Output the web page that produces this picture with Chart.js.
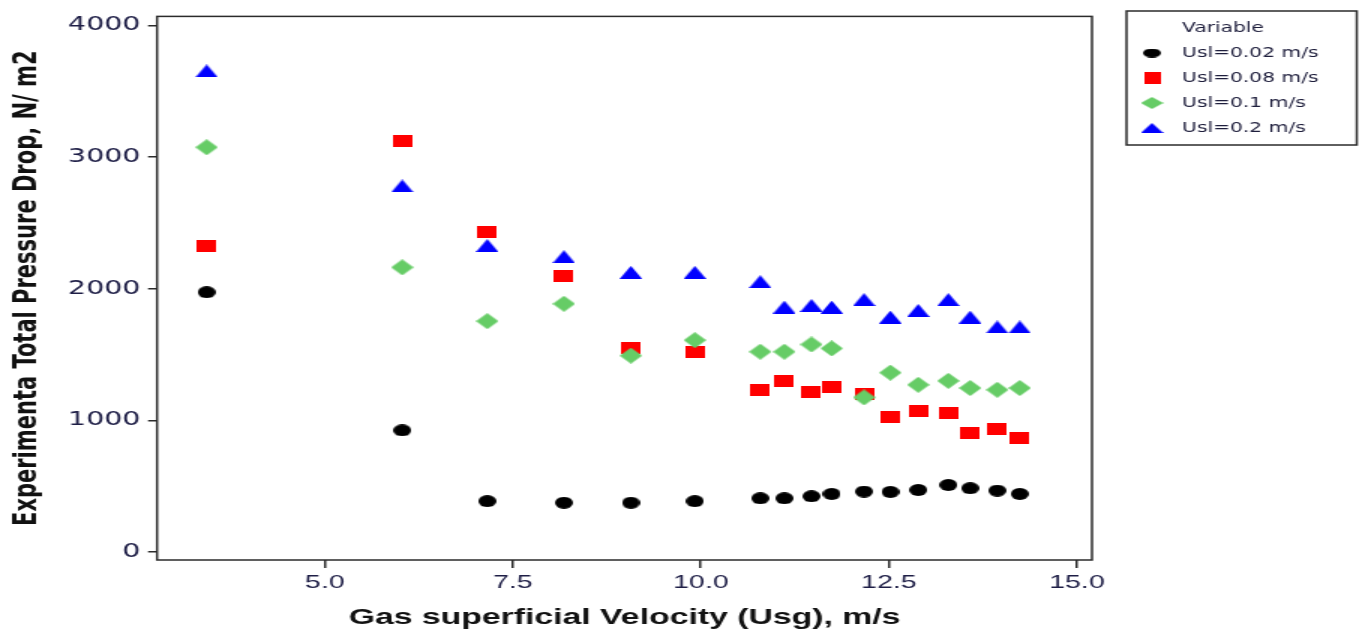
<!DOCTYPE html>
<html>
<head>
<meta charset="utf-8">
<script src="https://cdn.jsdelivr.net/npm/chart.js@4.4.1/dist/chart.umd.min.js"></script>
<style>
  html, body { margin: 0; padding: 0; background: #ffffff; overflow: hidden; }
  #wrap { width: 906px; height: 633px; transform: scaleX(1.5); transform-origin: 0 0; }
  canvas { display: block; }
</style>
</head>
<body>
<div id="wrap"><canvas id="chart" width="906" height="633"></canvas></div>
<script>
// Gas superficial velocity (m/s) for every measured run
const usg = [3.43, 6.03, 7.16, 8.18, 9.07, 9.92, 10.79, 11.11, 11.47, 11.74, 12.17, 12.52, 12.89, 13.29, 13.58, 13.94, 14.24];

// Measured total pressure drop (N/m2) for each liquid superficial velocity
const dpUsl002 = [1974, 925, 387, 375, 375, 387, 409, 409, 424, 442, 460, 457, 472, 510, 485, 467, 442];
const dpUsl008 = [2326, 3120, 2432, 2095, 1552, 1522, 1233, 1301, 1216, 1251, 1203, 1028, 1070, 1053, 907, 932, 864];
const dpUsl01  = [3075, 2163, 1754, 1886, 1492, 1610, 1522, 1522, 1577, 1547, 1175, 1363, 1271, 1301, 1246, 1233, 1246];
const dpUsl02  = [3655, 2781, 2329, 2244, 2125, 2125, 2054, 1861, 1874, 1861, 1918, 1785, 1836, 1918, 1785, 1710, 1710];

const seriesLabels = ['Usl=0.02 m/s', 'Usl=0.08 m/s', 'Usl=0.1 m/s', 'Usl=0.2 m/s'];
const xTickValues = [5.0, 7.5, 10.0, 12.5, 15.0];
const yTickValues = [0, 1000, 2000, 3000, 4000];

// Filled marker bitmaps used as point styles
function makeMarker(shape, w, h, color) {
  const c = document.createElement('canvas');
  c.width = w; c.height = h;
  const g = c.getContext('2d');
  g.fillStyle = color;
  g.beginPath();
  if (shape === 'circle') {
    g.ellipse(w / 2, h / 2, w / 2, h / 2, 0, 0, Math.PI * 2);
  } else if (shape === 'rect') {
    g.rect(0, 0, w, h);
  } else if (shape === 'diamond') {
    g.moveTo(w / 2, 0); g.lineTo(w, h / 2); g.lineTo(w / 2, h); g.lineTo(0, h / 2);
  } else if (shape === 'triangle') {
    g.moveTo(w / 2, 0); g.lineTo(w, h); g.lineTo(0, h);
  }
  g.closePath();
  g.fill();
  return c;
}

const markers = [
  makeMarker('circle', 12, 12, '#000000'),
  makeMarker('rect', 13, 12, '#ff0000'),
  makeMarker('diamond', 15, 16, '#66cc66'),
  makeMarker('triangle', 15, 13, '#0000ff')
];
const legendMarkers = [
  makeMarker('circle', 12, 9, '#000000'),
  makeMarker('rect', 11, 12, '#ff0000'),
  makeMarker('diamond', 15, 12, '#66cc66'),
  makeMarker('triangle', 15, 10, '#0000ff')
];

function toPoints(ys) {
  return usg.map((x, i) => ({ x: x, y: ys[i] }));
}

// Box around the plotting area
const frame = {
  id: 'frame',
  beforeDatasetsDraw(chart) {
    const { ctx, chartArea: a } = chart;
    ctx.save();
    ctx.strokeStyle = '#2b2b2b';
    ctx.lineWidth = 1.5;
    ctx.strokeRect(a.left, a.top, a.right - a.left, a.bottom - a.top);
    ctx.restore();
  }
};

// Boxed legend with a "Variable" heading, top right
const boxedLegend = {
  id: 'boxedLegend',
  afterDraw(chart) {
    const ctx = chart.ctx;
    const left = 751, top = 11, right = 904.5, bottom = 145;
    ctx.save();
    ctx.strokeStyle = '#2b2b2b';
    ctx.lineWidth = 1.5;
    ctx.strokeRect(left, top, right - left, bottom - top);
    ctx.font = '13.5px "DejaVu Sans"';
    ctx.fillStyle = '#1e1e3c';
    ctx.textBaseline = 'middle';
    ctx.textAlign = 'left';
    ctx.fillText('Variable', 788, 28);
    chart.data.datasets.forEach((ds, i) => {
      const y = 53 + i * 25;
      const m = legendMarkers[i];
      ctx.drawImage(m, 768 - m.width / 2, y - m.height / 2);
      ctx.fillStyle = '#1e1e3c';
      ctx.fillText(ds.label, 788, y);
    });
    ctx.restore();
  }
};

const datasets = [dpUsl002, dpUsl008, dpUsl01, dpUsl02].map((ys, i) => ({
  label: seriesLabels[i],
  data: toPoints(ys),
  pointStyle: markers[i],
  pointRadius: 8,
  pointHoverRadius: 8,
  showLine: false,
  order: 4 - i
}));

new Chart(document.getElementById('chart'), {
  type: 'scatter',
  data: { datasets: datasets },
  options: {
    responsive: false,
    animation: false,
    devicePixelRatio: 1,
    layout: { padding: { top: 12, right: 178, bottom: 0, left: 0 } },
    plugins: { legend: { display: false }, tooltip: { enabled: false } },
    scales: {
      x: {
        type: 'linear',
        min: 2.77,
        max: 15.2,
        afterBuildTicks: (s) => { s.ticks = xTickValues.map(v => ({ value: v })); },
        afterFit: (s) => { s.height = 73; },
        grid: { drawOnChartArea: false, drawTicks: true, tickLength: 8, color: '#2b2b2b', lineWidth: 1.5 },
        border: { display: false },
        ticks: {
          autoSkip: false, maxRotation: 0, padding: 3,
          color: '#1e1e46',
          font: { family: '"Liberation Sans", Arial, sans-serif', size: 19 },
          callback: (v) => Number(v).toFixed(1)
        },
        title: {
          display: true,
          text: 'Gas superficial Velocity (Usg), m/s',
          color: '#111111',
          font: { family: '"Liberation Sans", Arial, sans-serif', size: 22.5, weight: 'bold' },
          padding: { top: 0, bottom: 2 }
        }
      },
      y: {
        type: 'linear',
        min: -60,
        max: 4069,
        afterBuildTicks: (s) => { s.ticks = yTickValues.map(v => ({ value: v })); },
        afterFit: (s) => { s.width = 104.7; },
        grid: { drawOnChartArea: false, drawTicks: true, tickLength: 6, color: '#2b2b2b', lineWidth: 1.5 },
        border: { display: false },
        ticks: {
          autoSkip: false, padding: 5,
          color: '#1e1e46',
          font: { family: '"DejaVu Sans", sans-serif', size: 19 },
          callback: (v) => String(v)
        },
        title: {
          display: true,
          text: 'Experimenta Total Pressure Drop, N/ m2',
          color: '#111111',
          font: { family: '"DejaVu Sans", sans-serif', size: 21, weight: 'bold' },
          padding: { top: 6, bottom: 0 }
        }
      }
    }
  },
  plugins: [frame, boxedLegend]
});
</script>
</body>
</html>
